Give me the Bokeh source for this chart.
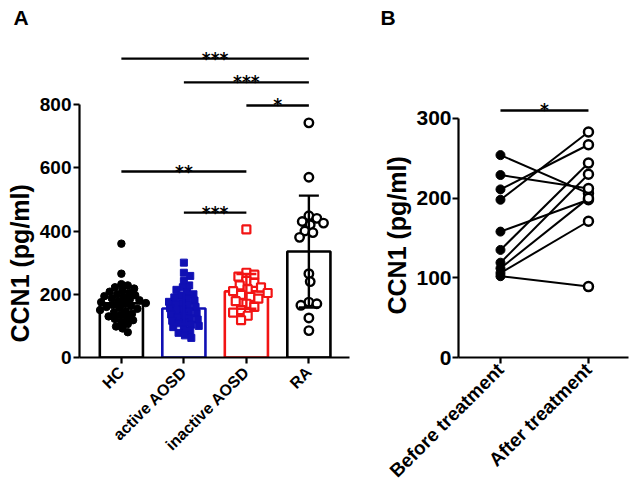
import math
import numpy as np
from bokeh.plotting import figure
from bokeh.layouts import row
from bokeh.models import Range1d, FixedTicker, Title
from bokeh.embed import file_html
from bokeh.resources import INLINE
from bokeh.core.properties import value

# ---------------- data ----------------
groups = ["HC", "active AOSD", "inactive AOSD", "RA"]
hc = [360, 265, 232, 228, 222, 218, 212, 208, 204, 200, 197, 194, 190, 187, 184,
      181, 178, 175, 172, 169, 166, 163, 160, 157, 154, 150, 146, 142, 138, 134,
      130, 126, 122, 118, 112, 106, 98, 92, 80]
active_aosd = [300, 268, 258, 242, 228, 222, 214, 206, 200, 195, 190, 185, 180, 176,
               172, 168, 164, 160, 156, 152, 148, 144, 140, 136, 132, 128, 124, 120,
               116, 112, 108, 104, 100, 96, 90, 84, 78, 70, 62]
inactive_aosd = [405, 268, 262, 256, 242, 236, 228, 222, 216, 210, 204, 198, 192,
                 186, 178, 170, 160, 150, 142, 132, 118]
ra = [742, 570, 448, 440, 430, 425, 420, 400, 395, 380, 265, 240, 175, 170, 165, 125, 85]
group_means = [171, 155, 209, 335]
group_sds = [54, 50, 55, 177]

# significance brackets panel A: (from group, to group, height, label)
sig_a_from = [0, 1, 2, 0, 1]
sig_a_to = [3, 3, 3, 2, 2]
sig_a_y = [945, 870, 797, 588, 458]
sig_a_text = ["***", "***", "*", "**", "***"]

# panel B paired data
timepoints = ["Before treatment", "After treatment"]
before = [254, 229, 211, 198, 158, 135, 119, 112, 106, 102]
after = [206, 212, 267, 283, 198, 244, 230, 200, 171, 89]
sig_b_y = 310
sig_b_text = "*"

y_title = "CCN1 (pg/ml)"

# ---------------- styling ----------------
FONT = "Liberation Sans"
STAR_FONT = "DejaVu Sans"
BLUE = "#1010B4"
RED = "#F21414"
edge_colors = ["black", BLUE, RED, "black"]


def swarm(vals, center, d_px, px_per_x, px_per_y):
    placed = []
    xs = [0.0] * len(vals)
    order = np.argsort(vals)[::-1]
    cands = [0.0]
    for j in range(1, 80):
        cands += [j * d_px / 6.0, -j * d_px / 6.0]
    for i in order:
        y = vals[i] * px_per_y
        for c in cands:
            if all((c - a) ** 2 + (y - b) ** 2 >= d_px ** 2 for a, b in placed):
                break
        placed.append((c, y))
        xs[i] = center + c / px_per_x
    return xs


def style_axes(p, xfs, yfs):
    for ax in (p.xaxis[0], p.yaxis[0]):
        ax.axis_line_width = 2.2
        ax.axis_line_color = "black"
        ax.major_tick_line_width = 2.2
        ax.major_tick_line_color = "black"
        ax.major_tick_out = 6
        ax.major_tick_in = 0
        ax.minor_tick_line_color = None
        ax.major_label_text_font = FONT
        ax.major_label_text_font_style = "bold"
        ax.major_label_text_color = "black"
    p.xaxis[0].major_label_text_font_size = xfs
    p.yaxis[0].major_label_text_font_size = yfs
    p.xgrid.visible = False
    p.ygrid.visible = False
    p.outline_line_color = None


def add_ylabel(p, text, offset, standoff):
    t = Title(text=text, align="left", offset=offset, standoff=standoff,
              text_font=FONT, text_font_style="bold", text_font_size="25px",
              text_color="black")
    p.add_layout(t, "left")


def panel_title(p, text, offset):
    p.title.text = text
    p.title.align = "left"
    p.title.offset = offset
    p.title.standoff = 0
    p.title.vertical_align = "top"
    p.title.text_font = FONT
    p.title.text_font_style = "bold"
    p.title.text_font_size = "21px"
    p.title.text_color = "black"


H = 494

# ---------------- panel A ----------------
pA = figure(width=350, height=H, x_range=Range1d(-0.67, 3.65), y_range=Range1d(0, 1034),
            output_backend="svg", toolbar_location=None,
            min_border_left=78, min_border_right=1, min_border_top=30, min_border_bottom=137)
style_axes(pA, "16px", "19px")
pA.yaxis[0].ticker = FixedTicker(ticks=[0, 200, 400, 600, 800])
pA.yaxis[0].bounds = (0, 800)
pA.yaxis[0].major_label_standoff = 2
pA.xaxis[0].ticker = FixedTicker(ticks=[0, 1, 2, 3])
pA.xaxis[0].major_label_overrides = {i: g for i, g in enumerate(groups)}
pA.xaxis[0].major_label_orientation = math.pi / 4
pA.xaxis[0].major_label_standoff = 6
add_ylabel(pA, y_title, 15, 6)
panel_title(pA, "A", -66)

pxx = 62.7
pxy = 0.31625
pA.vbar(x=[0, 1, 2, 3], top=group_means, width=0.69, fill_color="white",
        line_color=edge_colors, line_width=2.6)

xs_hc = swarm(hc, 0, 6.4, pxx, pxy)
pA.scatter(xs_hc, hc, marker="circle", size=7.5, fill_color="black", line_color="black")
xs_ac = swarm(active_aosd, 1, 6.4, pxx, pxy)
pA.scatter(xs_ac, active_aosd, marker="square", size=7, fill_color=BLUE, line_color=BLUE)
xs_in = swarm(inactive_aosd, 2, 8.0, pxx, pxy)
pA.scatter(xs_in, inactive_aosd, marker="square", size=8, fill_color="white",
           line_color=RED, line_width=2.2)
xs_ra = swarm(ra, 3, 8.0, pxx, pxy)
pA.scatter(xs_ra, ra, marker="circle", size=8.5, fill_color="white",
           line_color="black", line_width=2.4)

gx = [0, 1, 2, 3]
lo = [m - s for m, s in zip(group_means, group_sds)]
hi = [m + s for m, s in zip(group_means, group_sds)]
pA.segment(x0=gx, y0=lo, x1=gx, y1=hi, line_color=edge_colors, line_width=2.4)
pA.segment(x0=[x - 0.16 for x in gx], y0=hi, x1=[x + 0.16 for x in gx], y1=hi,
           line_color=edge_colors, line_width=2.4)
pA.segment(x0=[x - 0.16 for x in gx], y0=lo, x1=[x + 0.16 for x in gx], y1=lo,
           line_color=edge_colors, line_width=2.4)

pA.segment(x0=sig_a_from, y0=sig_a_y, x1=sig_a_to, y1=sig_a_y, line_color="black", line_width=2.4)
pA.text(x=[(a + b) / 2 for a, b in zip(sig_a_from, sig_a_to)], y=sig_a_y, text=sig_a_text,
        text_font=value(STAR_FONT), text_font_style="bold", text_font_size="17px",
        text_align="center", text_baseline="alphabetic", y_offset=0, text_color="black")

# ---------------- panel B ----------------
pB = figure(width=280, height=H, x_range=Range1d(-0.477, 1.455), y_range=Range1d(0, 410.4),
            output_backend="svg", toolbar_location=None,
            min_border_left=108, min_border_right=2, min_border_top=30, min_border_bottom=137)
style_axes(pB, "19px", "21px")
pB.yaxis[0].ticker = FixedTicker(ticks=[0, 100, 200, 300])
pB.yaxis[0].bounds = (0, 300)
pB.yaxis[0].major_label_standoff = 1
pB.xaxis[0].ticker = FixedTicker(ticks=[0, 1])
pB.xaxis[0].major_label_overrides = {i: t for i, t in enumerate(timepoints)}
pB.xaxis[0].major_label_orientation = math.pi / 4
pB.xaxis[0].major_label_standoff = 3
add_ylabel(pB, y_title, 43, 6)
panel_title(pB, "B", -78)

n = len(before)
pB.segment(x0=[0] * n, y0=before, x1=[1] * n, y1=after, line_color="black", line_width=2)
pB.scatter([0] * n, before, marker="circle", size=9, fill_color="black", line_color="black")
pB.scatter([1] * n, after, marker="circle", size=9, fill_color="white",
           line_color="black", line_width=2.5)
pB.segment(x0=[0], y0=[sig_b_y], x1=[1], y1=[sig_b_y], line_color="black", line_width=2.4)
pB.text(x=[0.5], y=[sig_b_y], text=[sig_b_text], text_font=value(STAR_FONT),
        text_font_style="bold", text_font_size="17px", text_align="center",
        text_baseline="alphabetic", y_offset=0, text_color="black")

layout = row(pA, pB)
open("out.html", "w").write(file_html(layout, INLINE))
